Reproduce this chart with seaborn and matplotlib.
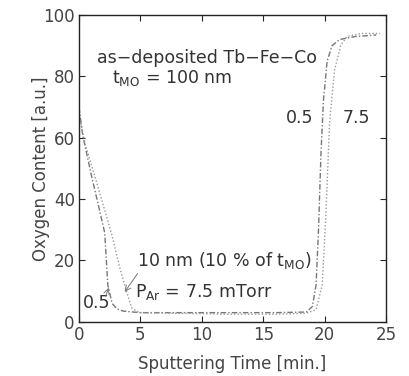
import matplotlib
matplotlib.use("Agg")
import matplotlib.pyplot as plt
import seaborn as sns
import pandas as pd

# data
t_05 = [0, 0.3, 1.0, 1.7, 2.1, 2.35, 2.7, 3.1, 3.6, 5, 8, 12, 16, 18.5, 19.0, 19.3, 19.5, 19.7, 19.9, 20.2, 20.6, 21.2, 22.5, 24.2]
o_05 = [70, 61, 48, 36, 29, 12, 6, 4.2, 3.5, 3, 3, 3, 3, 3.2, 5, 12, 30, 55, 72, 85, 90, 92, 93, 93.5]
t_75 = [0, 0.5, 1.4, 2.2, 2.7, 3.3, 3.9, 4.3, 4.9, 8, 12, 16, 18.5, 19.3, 19.8, 20.1, 20.4, 20.8, 21.3, 21.8, 23, 24.5]
o_75 = [68, 58, 46, 35, 28, 18, 9.5, 4.5, 3, 2.8, 2.5, 2.5, 2.8, 4, 12, 35, 65, 82, 90, 93, 94, 94]
x_ticks = [0, 5, 10, 15, 20, 25]
y_ticks = [0, 20, 40, 60, 80, 100]

df = pd.concat([
    pd.DataFrame({"t": t_05, "o": o_05, "p": "0.5"}),
    pd.DataFrame({"t": t_75, "o": o_75, "p": "7.5"}),
])

sns.set_style("ticks")
plt.rcParams["font.family"] = ["DejaVu Sans"]
plt.rcParams["mathtext.default"] = "regular"

fig = plt.figure(figsize=(4.09, 3.76), dpi=100)
ax = fig.add_axes([0.193, 0.144, 0.751, 0.816])

sns.lineplot(data=df, x="t", y="o", hue="p", style="p",
             palette={"0.5": "#777777", "7.5": "#999999"},
             dashes={"0.5": (4, 1.5, 1, 1.5), "7.5": (1, 1.5)},
             linewidth=1.0, legend=False, ax=ax, sort=False)

ax.set_xlim(0, 25)
ax.set_ylim(0, 100)
ax.set_xticks(x_ticks)
ax.set_yticks(y_ticks)
ax.tick_params(direction="in", top=True, right=True, length=4, labelsize=12,
               labelcolor="#444444", width=0.8, pad=3)
for s in ax.spines.values():
    s.set_color("#222222")
    s.set_linewidth(1.0)
ax.set_xlabel("Sputtering Time [min.]", fontsize=12, color="#444444", labelpad=8)
ax.set_ylabel("Oxygen Content [a.u.]", fontsize=12, color="#444444")
ax.yaxis.set_label_coords(-0.095, 0.5)

tc = "#333333"
fs = 12.5
ax.text(1.5, 86, "as\u2212deposited Tb\u2212Fe\u2212Co", fontsize=fs, color=tc, va="center")
ax.text(2.7, 79.5, "t$_{MO}$ = 100 nm", fontsize=fs, color=tc, va="center")
ax.text(18.0, 66.5, "0.5", fontsize=fs, color=tc, va="center", ha="center")
ax.text(22.6, 66.5, "7.5", fontsize=fs, color=tc, va="center", ha="center")
ax.text(4.7, 20, "10 nm (10 % of t$_{MO}$)", fontsize=fs, color=tc, va="center")
ax.text(4.6, 9.8, "P$_{Ar}$ = 7.5 mTorr", fontsize=fs, color=tc, va="center")
ax.text(0.3, 6, "0.5", fontsize=fs, color=tc, va="center")
ax.annotate("", xy=(2.5, 12), xytext=(2.1, 7.5),
            arrowprops=dict(arrowstyle="->", color="#777777", lw=0.7))
ax.annotate("", xy=(3.6, 9), xytext=(4.9, 16.5),
            arrowprops=dict(arrowstyle="->", color="#777777", lw=0.7))

fig.savefig("out.png", dpi=100)
